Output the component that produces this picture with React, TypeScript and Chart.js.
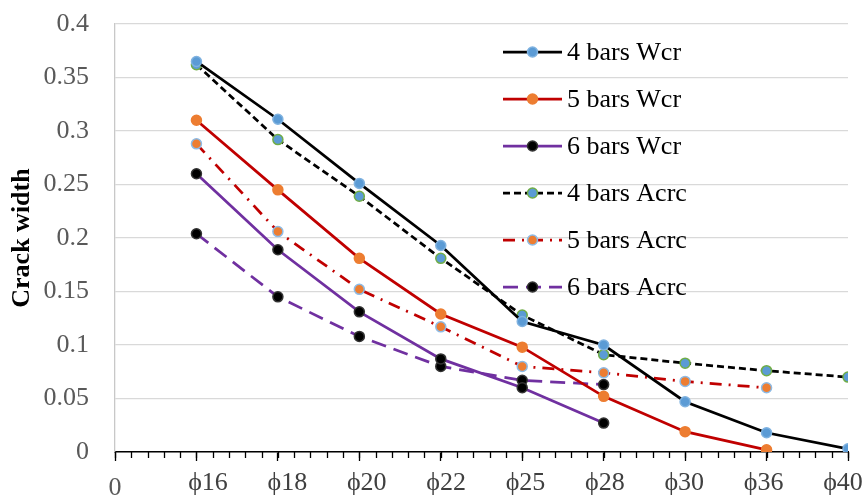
import { useEffect, useRef } from "react";
import { Chart, registerables } from "chart.js";

Chart.register(...registerables);

// Category labels (position 0 is the origin label "0")
const xLabels = ["0", "ϕ16", "ϕ18", "ϕ20", "ϕ22", "ϕ25", "ϕ28", "ϕ30", "ϕ36", "ϕ40"];

// Series values, starting at ϕ16 (position 1)
const wcr4 = [0.365, 0.311, 0.251, 0.193, 0.122, 0.1, 0.047, 0.018, 0.003];
const wcr5 = [0.31, 0.245, 0.181, 0.129, 0.098, 0.052, 0.019, 0.002];
const wcr6 = [0.26, 0.189, 0.131, 0.087, 0.06, 0.027];
const acrc4 = [0.362, 0.292, 0.239, 0.181, 0.128, 0.091, 0.083, 0.076, 0.07];
const acrc5 = [0.288, 0.206, 0.152, 0.117, 0.08, 0.074, 0.066, 0.06];
const acrc6 = [0.204, 0.145, 0.108, 0.08, 0.067, 0.063];

const seriesNames = [
  "4 bars Wcr",
  "5 bars Wcr",
  "6 bars Wcr",
  "4 bars Acrc",
  "5 bars Acrc",
  "6 bars Acrc",
];

const yTickValues = [0, 0.05, 0.1, 0.15, 0.2, 0.25, 0.3, 0.35, 0.4];

const SERIF = '"Liberation Serif", "Times New Roman", serif';

const toPoints = (vals: number[]) => vals.map((v, i) => ({ x: i + 1, y: v }));

const axisDecorPlugin = {
  id: "axisDecor",
  afterDraw(chart: any) {
    const ctx = chart.ctx;
    const xs = chart.scales.x;
    const bottom = chart.chartArea.bottom;
    ctx.save();
    // minor tick marks
    ctx.strokeStyle = "#000";
    ctx.lineWidth = 1.3;
    for (let i = 0; i <= 45; i++) {
      const px = Math.round(xs.getPixelForValue(i * 0.2)) + 0.5;
      ctx.beginPath();
      ctx.moveTo(px, bottom);
      ctx.lineTo(px, bottom + 6);
      ctx.stroke();
    }
    // category labels
    ctx.font = `26px ${SERIF}`;
    ctx.textAlign = "center";
    ctx.textBaseline = "middle";
    xLabels.forEach((lab, i) => {
      if (i === 0) {
        ctx.fillStyle = "#595959";
        ctx.fillText(lab, xs.getPixelForValue(0), bottom + 36);
      } else {
        ctx.fillStyle = "#404040";
        ctx.fillText(lab, xs.getPixelForValue(0.1674 + 0.9746 * i), bottom + 31);
      }
    });
    ctx.restore();
  },
};

const legendPlugin = {
  id: "insideLegend",
  afterDraw(chart: any) {
    const ctx = chart.ctx;
    const area = chart.chartArea;
    const x0 = area.left + 388;
    const lineLen = 59;
    const y0 = area.top + 28;
    const step = 47;
    ctx.save();
    chart.data.datasets.forEach((ds: any, i: number) => {
      const y = y0 + i * step;
      ctx.beginPath();
      ctx.setLineDash(ds.borderDash || []);
      ctx.strokeStyle = ds.borderColor;
      ctx.lineWidth = ds.borderWidth;
      ctx.moveTo(x0, y);
      ctx.lineTo(x0 + lineLen, y);
      ctx.stroke();
      ctx.setLineDash([]);
      ctx.beginPath();
      ctx.arc(x0 + lineLen / 2, y, ds.pointRadius, 0, Math.PI * 2);
      ctx.fillStyle = ds.pointBackgroundColor;
      ctx.fill();
      ctx.lineWidth = ds.pointBorderWidth;
      ctx.strokeStyle = ds.pointBorderColor;
      ctx.stroke();
      ctx.fillStyle = "#000";
      ctx.font = `26px ${SERIF}`;
      ctx.textAlign = "left";
      ctx.textBaseline = "middle";
      ctx.fillText(ds.label, x0 + lineLen + 5, y + 1);
    });
    ctx.restore();
  },
};

export default function App() {
  const ref = useRef<HTMLCanvasElement | null>(null);

  useEffect(() => {
    if (!ref.current) return;
    const common = {
      borderWidth: 2.75,
      pointRadius: 5,
      pointHoverRadius: 5,
      pointBorderWidth: 1.5,
      tension: 0,
      fill: false,
    };
    const chart = new Chart(ref.current, {
      type: "line",
      data: {
        datasets: [
          {
            ...common,
            label: seriesNames[0],
            data: toPoints(wcr4),
            borderColor: "#000000",
            borderDash: [],
            pointBackgroundColor: "#5B9BD5",
            pointBorderColor: "#7FB2E0",
            order: 1,
          },
          {
            ...common,
            label: seriesNames[1],
            data: toPoints(wcr5),
            borderColor: "#C00000",
            borderDash: [],
            pointBackgroundColor: "#ED7D31",
            pointBorderColor: "#ED7D31",
            order: 2,
          },
          {
            ...common,
            label: seriesNames[2],
            data: toPoints(wcr6),
            borderColor: "#7030A0",
            borderDash: [],
            pointBackgroundColor: "#000000",
            pointBorderColor: "#333333",
            order: 3,
          },
          {
            ...common,
            label: seriesNames[3],
            data: toPoints(acrc4),
            borderColor: "#000000",
            borderDash: [7, 4],
            pointBackgroundColor: "#5B9BD5",
            pointBorderColor: "#70AD47",
            order: 4,
          },
          {
            ...common,
            label: seriesNames[4],
            data: toPoints(acrc5),
            borderColor: "#C00000",
            borderDash: [12, 7, 2, 7],
            pointBackgroundColor: "#ED7D31",
            pointBorderColor: "#8DBBE6",
            order: 5,
          },
          {
            ...common,
            label: seriesNames[5],
            data: toPoints(acrc6),
            borderColor: "#7030A0",
            borderDash: [15, 8],
            pointBackgroundColor: "#000000",
            pointBorderColor: "#333333",
            order: 6,
          },
        ],
      },
      options: {
        animation: false,
        responsive: false,
        maintainAspectRatio: false,
        layout: { padding: { top: 24, right: 18, bottom: 0, left: 0 } },
        plugins: {
          legend: { display: false },
          tooltip: { enabled: false },
          title: { display: false },
        },
        scales: {
          x: {
            type: "linear",
            min: 0,
            max: 9,
            afterFit: (s: any) => {
              s.height = 44;
              s.paddingLeft = 0;
              s.paddingRight = 0;
            },
            afterBuildTicks: (s: any) => {
              s.ticks = xLabels.map((_, i) => ({ value: i }));
            },
            grid: {
              display: true,
              drawOnChartArea: false,
              drawTicks: true,
              tickLength: 9,
              tickColor: "#000",
              tickWidth: 1.3,
            },
            border: { display: true, color: "#000", width: 1.5 },
            ticks: {
              autoSkip: false,
              maxRotation: 0,
              minRotation: 0,
              padding: 6,
              font: { family: SERIF, size: 26 },
              callback: () => "",
            },
          },
          y: {
            min: 0,
            max: 0.4,
            afterFit: (s: any) => {
              s.width = 115;
              s.paddingTop = 0;
              s.paddingBottom = 0;
            },
            afterBuildTicks: (s: any) => {
              s.ticks = yTickValues.map((v) => ({ value: v }));
            },
            grid: {
              color: "#D9D9D9",
              lineWidth: 1.3,
              drawTicks: false,
            },
            border: { display: true, color: "#C8C8C8", width: 1.3 },
            ticks: {
              padding: 26,
              color: "#595959",
              font: { family: SERIF, size: 26 },
              callback: (v: any) => String(Math.round(v * 100) / 100),
            },
            title: {
              display: true,
              text: "Crack width",
              color: "#000",
              font: { family: SERIF, size: 26, weight: "bold" },
              padding: { top: 7, bottom: 0 },
            },
          },
        },
      },
      plugins: [axisDecorPlugin, legendPlugin],
    } as any);
    return () => chart.destroy();
  }, []);

  return (
    <div style={{ position: "absolute", left: 0, top: 0, width: 866, height: 496 }}>
      <canvas ref={ref} width={866} height={496} style={{ display: "block" }} />
    </div>
  );
}
